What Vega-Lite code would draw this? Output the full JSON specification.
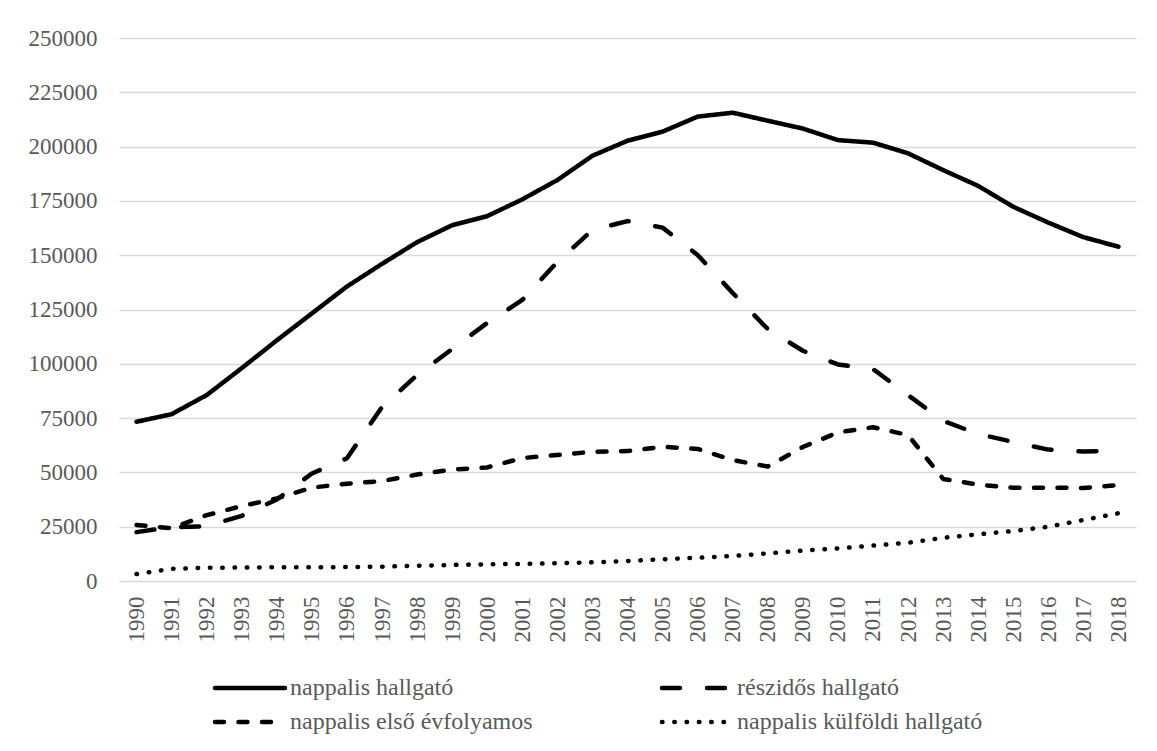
{
  "$schema": "https://vega.github.io/schema/vega-lite/v6.json",
  "autosize": "none",
  "width": 1017,
  "height": 543,
  "padding": {"left": 119, "top": 38, "right": 21, "bottom": 170},
  "background": "white",
  "data": {"values": [
    {"year": "1990", "series": "nappalis hallgató", "value": 73300},
    {"year": "1991", "series": "nappalis hallgató", "value": 76800},
    {"year": "1992", "series": "nappalis hallgató", "value": 85600},
    {"year": "1993", "series": "nappalis hallgató", "value": 98000},
    {"year": "1994", "series": "nappalis hallgató", "value": 110800},
    {"year": "1995", "series": "nappalis hallgató", "value": 123200},
    {"year": "1996", "series": "nappalis hallgató", "value": 135600},
    {"year": "1997", "series": "nappalis hallgató", "value": 146000},
    {"year": "1998", "series": "nappalis hallgató", "value": 156000},
    {"year": "1999", "series": "nappalis hallgató", "value": 163800},
    {"year": "2000", "series": "nappalis hallgató", "value": 168000},
    {"year": "2001", "series": "nappalis hallgató", "value": 175700},
    {"year": "2002", "series": "nappalis hallgató", "value": 184600},
    {"year": "2003", "series": "nappalis hallgató", "value": 195800},
    {"year": "2004", "series": "nappalis hallgató", "value": 202700},
    {"year": "2005", "series": "nappalis hallgató", "value": 206900},
    {"year": "2006", "series": "nappalis hallgató", "value": 213800},
    {"year": "2007", "series": "nappalis hallgató", "value": 215600},
    {"year": "2008", "series": "nappalis hallgató", "value": 211900},
    {"year": "2009", "series": "nappalis hallgató", "value": 208300},
    {"year": "2010", "series": "nappalis hallgató", "value": 203000},
    {"year": "2011", "series": "nappalis hallgató", "value": 201800},
    {"year": "2012", "series": "nappalis hallgató", "value": 196900},
    {"year": "2013", "series": "nappalis hallgató", "value": 189200},
    {"year": "2014", "series": "nappalis hallgató", "value": 181900},
    {"year": "2015", "series": "nappalis hallgató", "value": 172300},
    {"year": "2016", "series": "nappalis hallgató", "value": 165000},
    {"year": "2017", "series": "nappalis hallgató", "value": 158300},
    {"year": "2018", "series": "nappalis hallgató", "value": 153900},

    {"year": "1990", "series": "részidős hallgató", "value": 22500},
    {"year": "1991", "series": "részidős hallgató", "value": 24800},
    {"year": "1992", "series": "részidős hallgató", "value": 25200},
    {"year": "1993", "series": "részidős hallgató", "value": 30000},
    {"year": "1994", "series": "részidős hallgató", "value": 37500},
    {"year": "1995", "series": "részidős hallgató", "value": 49500},
    {"year": "1996", "series": "részidős hallgató", "value": 56500},
    {"year": "1997", "series": "részidős hallgató", "value": 80100},
    {"year": "1998", "series": "részidős hallgató", "value": 94800},
    {"year": "1999", "series": "részidős hallgató", "value": 106800},
    {"year": "2000", "series": "részidős hallgató", "value": 118800},
    {"year": "2001", "series": "részidős hallgató", "value": 129400},
    {"year": "2002", "series": "részidős hallgató", "value": 146900},
    {"year": "2003", "series": "részidős hallgató", "value": 161600},
    {"year": "2004", "series": "részidős hallgató", "value": 165700},
    {"year": "2005", "series": "részidős hallgató", "value": 162700},
    {"year": "2006", "series": "részidős hallgató", "value": 150100},
    {"year": "2007", "series": "részidős hallgató", "value": 132600},
    {"year": "2008", "series": "részidős hallgató", "value": 116000},
    {"year": "2009", "series": "részidős hallgató", "value": 106000},
    {"year": "2010", "series": "részidős hallgató", "value": 99700},
    {"year": "2011", "series": "részidős hallgató", "value": 97600},
    {"year": "2012", "series": "részidős hallgató", "value": 85600},
    {"year": "2013", "series": "részidős hallgató", "value": 73700},
    {"year": "2014", "series": "részidős hallgató", "value": 67700},
    {"year": "2015", "series": "részidős hallgató", "value": 64000},
    {"year": "2016", "series": "részidős hallgató", "value": 60500},
    {"year": "2017", "series": "részidős hallgató", "value": 59600},
    {"year": "2018", "series": "részidős hallgató", "value": 60100},

    {"year": "1990", "series": "nappalis első évfolyamos", "value": 25800},
    {"year": "1991", "series": "nappalis első évfolyamos", "value": 24300},
    {"year": "1992", "series": "nappalis első évfolyamos", "value": 30300},
    {"year": "1993", "series": "nappalis első évfolyamos", "value": 34500},
    {"year": "1994", "series": "nappalis első évfolyamos", "value": 38000},
    {"year": "1995", "series": "nappalis első évfolyamos", "value": 43000},
    {"year": "1996", "series": "nappalis első évfolyamos", "value": 44800},
    {"year": "1997", "series": "nappalis első évfolyamos", "value": 46000},
    {"year": "1998", "series": "nappalis első évfolyamos", "value": 49000},
    {"year": "1999", "series": "nappalis első évfolyamos", "value": 51300},
    {"year": "2000", "series": "nappalis első évfolyamos", "value": 52300},
    {"year": "2001", "series": "nappalis első évfolyamos", "value": 56600},
    {"year": "2002", "series": "nappalis első évfolyamos", "value": 58000},
    {"year": "2003", "series": "nappalis első évfolyamos", "value": 59500},
    {"year": "2004", "series": "nappalis első évfolyamos", "value": 59800},
    {"year": "2005", "series": "nappalis első évfolyamos", "value": 61800},
    {"year": "2006", "series": "nappalis első évfolyamos", "value": 60800},
    {"year": "2007", "series": "nappalis első évfolyamos", "value": 55700},
    {"year": "2008", "series": "nappalis első évfolyamos", "value": 52700},
    {"year": "2009", "series": "nappalis első évfolyamos", "value": 61700},
    {"year": "2010", "series": "nappalis első évfolyamos", "value": 68400},
    {"year": "2011", "series": "nappalis első évfolyamos", "value": 70800},
    {"year": "2012", "series": "nappalis első évfolyamos", "value": 67200},
    {"year": "2013", "series": "nappalis első évfolyamos", "value": 47000},
    {"year": "2014", "series": "nappalis első évfolyamos", "value": 44400},
    {"year": "2015", "series": "nappalis első évfolyamos", "value": 42900},
    {"year": "2016", "series": "nappalis első évfolyamos", "value": 43000},
    {"year": "2017", "series": "nappalis első évfolyamos", "value": 42800},
    {"year": "2018", "series": "nappalis első évfolyamos", "value": 44200},

    {"year": "1990", "series": "nappalis külföldi hallgató", "value": 3200},
    {"year": "1991", "series": "nappalis külföldi hallgató", "value": 5600},
    {"year": "1992", "series": "nappalis külföldi hallgató", "value": 6100},
    {"year": "1993", "series": "nappalis külföldi hallgató", "value": 6200},
    {"year": "1994", "series": "nappalis külföldi hallgató", "value": 6300},
    {"year": "1995", "series": "nappalis külföldi hallgató", "value": 6300},
    {"year": "1996", "series": "nappalis külföldi hallgató", "value": 6400},
    {"year": "1997", "series": "nappalis külföldi hallgató", "value": 6600},
    {"year": "1998", "series": "nappalis külföldi hallgató", "value": 7000},
    {"year": "1999", "series": "nappalis külföldi hallgató", "value": 7400},
    {"year": "2000", "series": "nappalis külföldi hallgató", "value": 7700},
    {"year": "2001", "series": "nappalis külföldi hallgató", "value": 7900},
    {"year": "2002", "series": "nappalis külföldi hallgató", "value": 8200},
    {"year": "2003", "series": "nappalis külföldi hallgató", "value": 8600},
    {"year": "2004", "series": "nappalis külföldi hallgató", "value": 9200},
    {"year": "2005", "series": "nappalis külföldi hallgató", "value": 10000},
    {"year": "2006", "series": "nappalis külföldi hallgató", "value": 10700},
    {"year": "2007", "series": "nappalis külföldi hallgató", "value": 11500},
    {"year": "2008", "series": "nappalis külföldi hallgató", "value": 12700},
    {"year": "2009", "series": "nappalis külföldi hallgató", "value": 14000},
    {"year": "2010", "series": "nappalis külföldi hallgató", "value": 15000},
    {"year": "2011", "series": "nappalis külföldi hallgató", "value": 16300},
    {"year": "2012", "series": "nappalis külföldi hallgató", "value": 17600},
    {"year": "2013", "series": "nappalis külföldi hallgató", "value": 19900},
    {"year": "2014", "series": "nappalis külföldi hallgató", "value": 21500},
    {"year": "2015", "series": "nappalis külföldi hallgató", "value": 23000},
    {"year": "2016", "series": "nappalis külföldi hallgató", "value": 25000},
    {"year": "2017", "series": "nappalis külföldi hallgató", "value": 28100},
    {"year": "2018", "series": "nappalis külföldi hallgató", "value": 31200}
  ]},
  "mark": {"type": "line", "strokeWidth": 4.5, "strokeCap": "round", "strokeJoin": "round", "interpolate": "linear", "color": "black"},
  "encoding": {
    "x": {
      "field": "year", "type": "ordinal",
      "scale": {"type": "point", "padding": 0.5},
      "axis": {"title": null, "labelAngle": -90, "domain": false, "ticks": false, "tickSize": 0, "labelPadding": 15, "grid": false}
    },
    "y": {
      "field": "value", "type": "quantitative",
      "scale": {"domain": [0, 250000], "nice": false},
      "axis": {"title": null, "values": [0, 25000, 50000, 75000, 100000, 125000, 150000, 175000, 200000, 225000, 250000], "format": "d", "domain": false, "ticks": false, "tickSize": 0, "labelPadding": 22, "gridColor": "#d9d9d9", "gridWidth": 1.5}
    },
    "strokeDash": {
      "field": "series", "type": "nominal",
      "scale": {
        "domain": ["nappalis hallgató", "részidős hallgató", "nappalis első évfolyamos", "nappalis külföldi hallgató"],
        "range": [[1, 0], [18, 27], [9, 14.5], [0.5, 11.8]]
      },
      "legend": {
        "title": null, "orient": "none", "legendX": 119, "legendY": 638,
        "columns": 2, "direction": "horizontal",
        "symbolType": "M-5,0H5", "symbolSize": 196, "symbolStrokeWidth": 4.5, "symbolStrokeColor": "black", "symbolFillColor": "transparent",
        "labelFont": "Liberation Serif", "labelFontSize": 24, "labelColor": "#595959", "labelOffset": 28, "labelLimit": 0,
        "columnPadding": 120, "rowPadding": 10,
        "encode": {"symbols": {"update": {"strokeCap": {"value": "round"}}}}
      }
    }
  },
  "config": {
    "view": {"stroke": null},
    "font": "Liberation Serif",
    "axis": {"labelFont": "Liberation Serif", "labelFontSize": 23, "labelColor": "#595959"}
  }
}
